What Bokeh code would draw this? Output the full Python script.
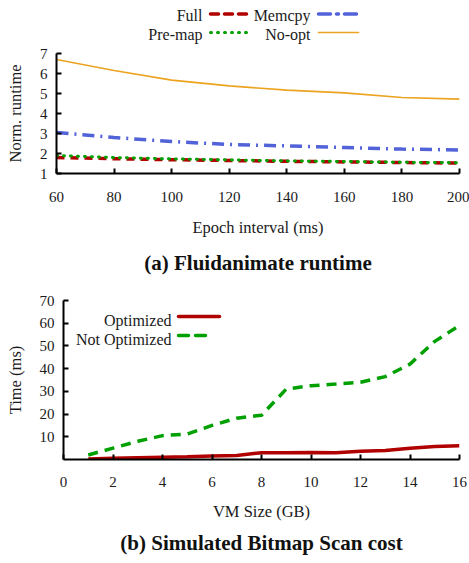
from bokeh.plotting import figure
from bokeh.layouts import column, row
from bokeh.models import Label, Arrow, FixedTicker, Range1d
from bokeh.embed import file_html
from bokeh.resources import INLINE

# ---- data (a) ----
epoch = [60, 80, 100, 120, 140, 160, 180, 200]
full = [1.80, 1.74, 1.69, 1.65, 1.61, 1.58, 1.55, 1.52]
premap = [1.90, 1.80, 1.73, 1.68, 1.63, 1.60, 1.56, 1.54]
memcpy = [3.05, 2.80, 2.60, 2.45, 2.38, 2.30, 2.22, 2.18]
noopt = [6.70, 6.15, 5.67, 5.38, 5.17, 5.03, 4.80, 4.72]
a_xticks = [60, 80, 100, 120, 140, 160, 180, 200]
a_yticks = [1, 2, 3, 4, 5, 6, 7]

# ---- data (b) ----
vm = list(range(1, 17))
optimized = [0.2, 0.5, 0.8, 1.0, 1.2, 1.5, 1.8, 3.0, 3.0, 3.1, 3.0, 3.6, 4.0, 5.0, 5.7, 6.0]
not_opt = [2.0, 5.0, 8.0, 10.5, 11.2, 15.0, 18.2, 19.5, 31.0, 32.5, 33.2, 34.0, 36.5, 42.0, 52.0, 59.0]
b_xticks = [0, 2, 4, 6, 8, 10, 12, 14, 16]
b_yticks = [10, 20, 30, 40, 50, 60, 70]

FONT = "Liberation Serif"
RED = "#b00000"
GREEN = "#00a000"
BLUE = "#5262d8"
ORANGE = "#eba320"
TXT = "#1a1a1a"


def style(p, xlabel, ylabel, xticks, yticks, tick_standoff, label_standoff, title_standoff):
    p.outline_line_color = None
    p.xgrid.visible = False
    p.ygrid.visible = False
    p.background_fill_color = "white"
    p.border_fill_color = "white"
    for ax in (p.xaxis[0], p.yaxis[0]):
        ax.axis_line_width = 2
        ax.axis_line_color = "black"
        ax.major_tick_line_width = 2
        ax.major_tick_in = 5
        ax.major_tick_out = 0
        ax.minor_tick_line_color = None
        ax.major_label_text_font = FONT
        ax.major_label_text_font_size = "15px"
        ax.major_label_text_color = TXT
        ax.axis_label_text_font = FONT
        ax.axis_label_text_font_size = "16.5px"
        ax.axis_label_text_font_style = "normal"
        ax.axis_label_text_color = TXT
    p.xaxis[0].ticker = FixedTicker(ticks=xticks)
    p.yaxis[0].ticker = FixedTicker(ticks=yticks)
    p.xaxis[0].axis_label = xlabel
    p.yaxis[0].axis_label = ylabel
    p.xaxis[0].major_label_standoff = tick_standoff
    p.xaxis[0].axis_label_standoff = label_standoff
    p.yaxis[0].major_label_standoff = 9
    p.yaxis[0].axis_label_standoff = 12
    p.title.text_font = FONT
    p.title.text_font_size = "21px"
    p.title.text_font_style = "bold"
    p.title.align = "center"
    p.title.text_color = "#111111"
    p.title.standoff = title_standoff


def legend_entry(p, text, x_text, y_text, x0, x1, y_line, color, width, dash):
    p.add_layout(Label(x=x_text, y=y_text, x_units="screen", y_units="screen", text=text,
                       text_align="right", text_baseline="middle", text_font=FONT,
                       text_font_size="16px", text_color=TXT))
    p.add_layout(Arrow(x_start=x0, y_start=y_line, x_end=x1, y_end=y_line,
                       start_units="screen", end_units="screen", end=None, start=None,
                       line_color=color, line_width=width, line_dash=dash, line_cap="round"))


# ---- legend strip for (a) ----
pl = figure(width=469, height=45, output_backend="svg", toolbar_location=None,
            x_range=Range1d(0, 1), y_range=Range1d(0, 1),
            min_border_left=0, min_border_right=0, min_border_top=0, min_border_bottom=0)
pl.axis.visible = False
pl.grid.visible = False
pl.outline_line_color = None
legend_entry(pl, "Full", 202, 30, 210, 246, 31.5, RED, 3.5, "8 6")
legend_entry(pl, "Memcpy", 310, 30, 318, 358, 31.5, BLUE, 3.5, "12 6 2 6")
legend_entry(pl, "Pre-map", 202, 11, 210, 247, 13, GREEN, 3, "1 6")
legend_entry(pl, "No-opt", 310, 11, 318, 358, 13, ORANGE, 1.6, "solid")

# ---- figure (a) ----
pa = figure(width=469, height=238, output_backend="svg", toolbar_location=None,
            x_range=Range1d(60, 200), y_range=Range1d(1, 7),
            title="(a) Fluidanimate runtime", title_location="below",
            min_border_left=56, min_border_right=10, min_border_top=8, min_border_bottom=108)
style(pa, "Epoch interval (ms)", "Norm. runtime", a_xticks, a_yticks, 18, 13, 18)
pa.line(epoch, noopt, line_color=ORANGE, line_width=1.6)
pa.line(epoch, memcpy, line_color=BLUE, line_width=3.5, line_dash="12 6 2 6")
pa.line(epoch, full, line_color=RED, line_width=3.5, line_dash="8 6")
pa.line(epoch, premap, line_color=GREEN, line_width=3, line_dash="1 6", line_cap="round")

# ---- figure (b) ----
pb = figure(width=469, height=280, output_backend="svg", toolbar_location=None,
            x_range=Range1d(0, 16), y_range=Range1d(0, 70),
            title="(b) Simulated Bitmap Scan cost", title_location="below",
            min_border_left=63, min_border_right=10, min_border_top=17, min_border_bottom=103)
style(pb, "VM Size (GB)", "Time (ms)", b_xticks, b_yticks, 17, 12, 14)
pb.title.vertical_align = "top"
pb.line(vm, not_opt, line_color=GREEN, line_width=3.5, line_dash="10 7")
pb.line(vm, optimized, line_color=RED, line_width=3.5)

legend_entry(pb, "Optimized", 108, 139, 115, 156, 143, RED, 3.5, "solid")
legend_entry(pb, "Not Optimized", 108, 120, 115, 148, 124, GREEN, 3.5, "10 7")

layout = column(row(pl), row(pa), row(pb), spacing=0)
open("out.html", "w").write(file_html(layout, INLINE))
